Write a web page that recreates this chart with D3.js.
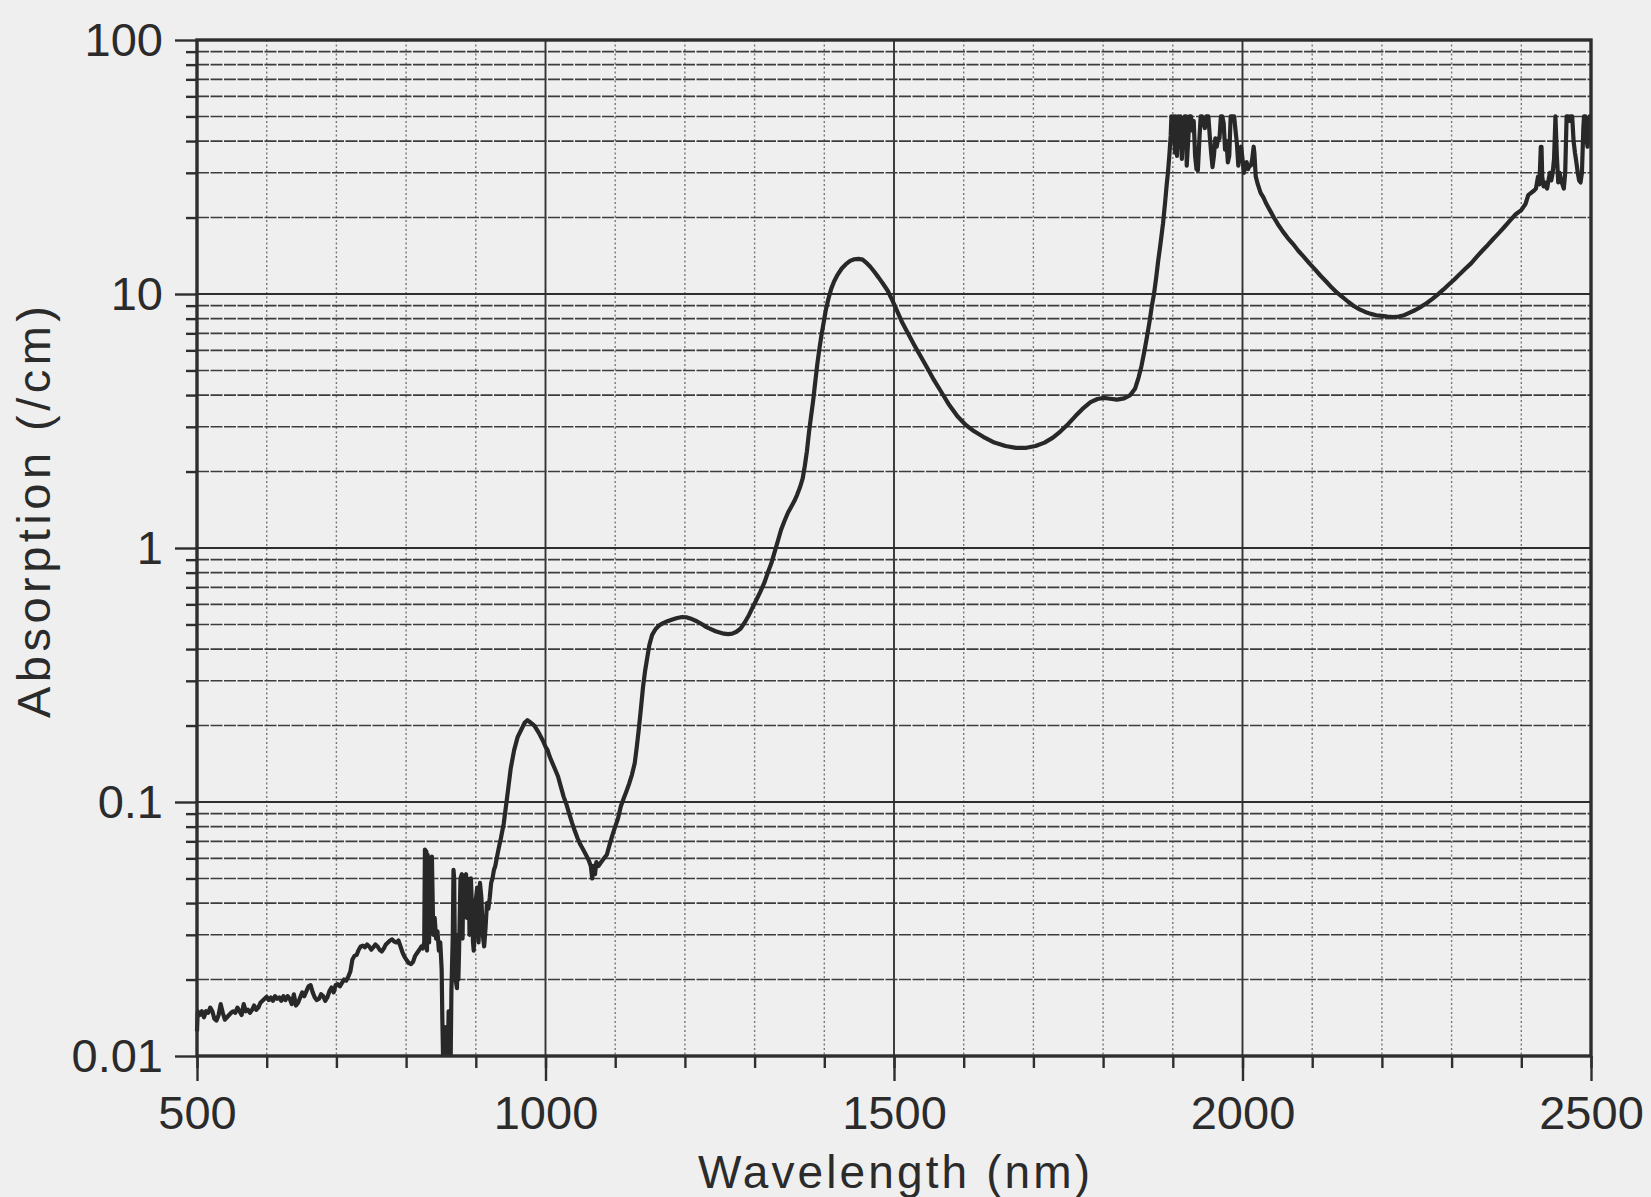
<!DOCTYPE html>
<html>
<head>
<meta charset="utf-8">
<script src="https://cdn.jsdelivr.net/npm/d3@7"></script>
<style>
  body { margin: 0; background: #efefef; }
  svg { display: block; background: #efefef; }
  text { font-family: "Liberation Sans", Arial, Helvetica, sans-serif; fill: #2b2b2b; }
</style>
</head>
<body>
<svg id="chart" width="1651" height="1197"></svg>
<script>
// spectrum: wavelength (nm) and absorption (/cm)
const wavelength = [
  500, 501, 504, 507, 510, 513, 516, 519, 522, 525, 528, 531, 534, 537, 540, 543, 546, 549, 552, 555,
  558, 561, 564, 567, 570, 573, 576, 579, 582, 585, 588, 591, 594, 597, 600, 603, 606, 609, 612, 615,
  618, 621, 624, 627, 630, 633, 636, 639, 642, 645, 648, 651, 654, 657, 660, 663, 666, 669, 672, 675,
  678, 681, 684, 687, 690, 693, 696, 699, 702, 705, 708, 711, 714, 717, 720, 723, 726, 729, 732, 735,
  738, 741, 744, 747, 750, 753, 756, 759, 762, 765, 768, 771, 774, 777, 780, 783, 786, 789, 792, 795,
  798, 801, 804, 807, 810, 813, 816, 819, 822, 824, 826, 827, 828, 829, 830, 831, 833, 834, 836, 837,
  839, 841, 843, 845, 847, 849, 851, 852, 853, 855, 856, 857, 860, 861, 862, 864, 865, 867, 868, 869,
  870, 871, 873, 874, 875, 876, 878, 880, 881, 882, 884, 886, 887, 888, 890, 891, 893, 894, 896, 897,
  898, 900, 902, 904, 906, 908, 910, 912, 914, 916, 918, 920, 922, 924, 926, 928, 930, 933, 936, 940,
  943, 946, 950, 955, 960, 965, 970, 974, 978, 984, 990, 996, 1000, 1003, 1006, 1010, 1014, 1018, 1022, 1026,
  1030, 1034, 1038, 1042, 1046, 1050, 1054, 1058, 1062, 1065, 1067, 1069, 1071, 1073, 1076, 1080, 1084, 1088, 1092, 1096,
  1100, 1104, 1108, 1112, 1116, 1120, 1124, 1128, 1131, 1134, 1137, 1140, 1143, 1146, 1149, 1153, 1158, 1163, 1168, 1175,
  1182, 1189, 1196, 1203, 1210, 1217, 1224, 1231, 1238, 1244, 1250, 1256, 1262, 1268, 1274, 1280, 1286, 1292, 1298, 1302,
  1308, 1314, 1319, 1324, 1329, 1334, 1338, 1343, 1348, 1353, 1357, 1361, 1365, 1369, 1372, 1375, 1378, 1381, 1384, 1387,
  1390, 1393, 1396, 1399, 1402, 1406, 1410, 1414, 1419, 1425, 1431, 1437, 1443, 1449, 1455, 1460, 1466, 1472, 1478, 1484,
  1491, 1498, 1505, 1512, 1520, 1529, 1538, 1548, 1557, 1567, 1578, 1591, 1603, 1615, 1628, 1644, 1660, 1675, 1690, 1703,
  1716, 1728, 1739, 1750, 1760, 1770, 1782, 1792, 1801, 1810, 1820, 1830, 1839, 1846, 1851, 1855, 1859, 1863, 1867, 1870,
  1873, 1876, 1879, 1882, 1886, 1889, 1891, 1893, 1895, 1897, 1898, 1900, 1901, 1903, 1904, 1906, 1908, 1910, 1911, 1913,
  1915, 1917, 1919, 1920, 1922, 1924, 1926, 1928, 1930, 1932, 1934, 1936, 1938, 1940, 1942, 1944, 1946, 1948, 1951, 1953,
  1955, 1957, 1959, 1961, 1963, 1965, 1967, 1969, 1971, 1973, 1975, 1977, 1979, 1981, 1983, 1986, 1988, 1990, 1992, 1994,
  1996, 1998, 2000, 2002, 2004, 2006, 2008, 2010, 2012, 2014, 2016, 2017, 2019, 2022, 2026, 2030, 2034, 2040, 2046, 2052,
  2058, 2065, 2072, 2080, 2088, 2096, 2104, 2112, 2120, 2128, 2136, 2144, 2152, 2160, 2168, 2176, 2184, 2192, 2200, 2208,
  2216, 2224, 2232, 2240, 2248, 2256, 2264, 2272, 2280, 2288, 2296, 2304, 2312, 2320, 2328, 2336, 2344, 2352, 2360, 2368,
  2376, 2384, 2392, 2400, 2406, 2410, 2414, 2418, 2421, 2424, 2426, 2428, 2429, 2430, 2432, 2434, 2437, 2439, 2441, 2443,
  2445, 2447, 2449, 2451, 2453, 2455, 2457, 2459, 2461, 2463, 2465, 2467, 2469, 2471, 2473, 2475, 2477, 2479, 2481, 2483,
  2485, 2487, 2489, 2490, 2492, 2494, 2495, 2497, 2498, 2500
];
const absorption = [
  0.0125, 0.0150, 0.0145, 0.0150, 0.0142, 0.0150, 0.0148, 0.0155, 0.0150, 0.0140, 0.0138, 0.0145, 0.0160, 0.0148, 0.0139, 0.0142, 0.0145, 0.0148, 0.0150, 0.0148,
  0.0155, 0.0150, 0.0145, 0.0160, 0.0150, 0.0152, 0.0148, 0.0152, 0.0158, 0.0152, 0.0155, 0.0162, 0.0165, 0.0168, 0.0171, 0.0166, 0.0170, 0.0165, 0.0172, 0.0168,
  0.0170, 0.0165, 0.0172, 0.0166, 0.0172, 0.0168, 0.0160, 0.0175, 0.0158, 0.0162, 0.0170, 0.0178, 0.0172, 0.0180, 0.0188, 0.0190, 0.0178, 0.0170, 0.0166, 0.0168,
  0.0175, 0.0172, 0.0165, 0.0170, 0.0180, 0.0186, 0.0178, 0.0190, 0.0192, 0.0188, 0.0194, 0.0200, 0.0198, 0.0205, 0.0215, 0.0240, 0.0248, 0.0250, 0.0262, 0.0270,
  0.0272, 0.0268, 0.0275, 0.0270, 0.0262, 0.0268, 0.0275, 0.0270, 0.0262, 0.0258, 0.0265, 0.0275, 0.0280, 0.0285, 0.0288, 0.0282, 0.0280, 0.0285, 0.0270, 0.0255,
  0.0245, 0.0238, 0.0232, 0.0230, 0.0235, 0.0248, 0.0255, 0.0262, 0.0270, 0.0265, 0.0280, 0.0650, 0.0300, 0.0640, 0.0260, 0.0620, 0.0280, 0.0600, 0.0420, 0.0610,
  0.0300, 0.0350, 0.0290, 0.0310, 0.0260, 0.0280, 0.0220, 0.0140, 0.0100, 0.0100, 0.0130, 0.0100, 0.0100, 0.0150, 0.0100, 0.0100, 0.0180, 0.0300, 0.0540, 0.0500,
  0.0250, 0.0200, 0.0185, 0.0300, 0.0200, 0.0260, 0.0500, 0.0520, 0.0290, 0.0500, 0.0500, 0.0520, 0.0350, 0.0500, 0.0480, 0.0300, 0.0500, 0.0420, 0.0280, 0.0260,
  0.0300, 0.0410, 0.0460, 0.0280, 0.0480, 0.0420, 0.0300, 0.0270, 0.0320, 0.0400, 0.0380, 0.0420, 0.0480, 0.0500, 0.0540, 0.0560, 0.0600, 0.0660, 0.0720, 0.0820,
  0.0950, 0.1100, 0.1350, 0.1600, 0.1800, 0.1920, 0.2050, 0.2100, 0.2060, 0.2000, 0.1880, 0.1750, 0.1650, 0.1600, 0.1510, 0.1420, 0.1340, 0.1260, 0.1150, 0.1050,
  0.0980, 0.0900, 0.0830, 0.0770, 0.0720, 0.0680, 0.0650, 0.0620, 0.0590, 0.0560, 0.0500, 0.0560, 0.0520, 0.0580, 0.0560, 0.0580, 0.0600, 0.0620, 0.0680, 0.0740,
  0.0800, 0.0860, 0.0960, 0.1030, 0.1100, 0.1180, 0.1280, 0.1420, 0.1650, 0.1950, 0.2350, 0.2850, 0.3300, 0.3700, 0.4150, 0.4550, 0.4800, 0.4950, 0.5050, 0.5150,
  0.5230, 0.5300, 0.5350, 0.5330, 0.5250, 0.5150, 0.5020, 0.4880, 0.4780, 0.4700, 0.4650, 0.4600, 0.4580, 0.4600, 0.4680, 0.4820, 0.5100, 0.5450, 0.5900, 0.6200,
  0.6700, 0.7300, 0.8000, 0.8700, 0.9700, 1.0800, 1.1800, 1.2800, 1.3800, 1.4600, 1.5300, 1.6200, 1.7300, 1.8800, 2.1000, 2.4000, 2.8500, 3.3000, 3.8000, 4.5000,
  5.3000, 6.1000, 6.9000, 7.7000, 8.6000, 9.6000, 10.500, 11.200, 11.900, 12.600, 13.100, 13.500, 13.700, 13.750, 13.650, 13.300, 12.800, 12.200, 11.600, 11.000,
  10.300, 9.400, 8.500, 7.700, 7.000, 6.300, 5.700, 5.100, 4.600, 4.150, 3.700, 3.300, 3.050, 2.880, 2.740, 2.600, 2.520, 2.480, 2.480, 2.520,
  2.600, 2.720, 2.880, 3.080, 3.300, 3.520, 3.750, 3.860, 3.900, 3.870, 3.840, 3.880, 4.000, 4.250, 4.700, 5.200, 5.900, 6.800, 7.900, 9.000,
  10.00, 11.50, 13.50, 15.50, 19.00, 23.00, 26.50, 30.00, 35.00, 42.00, 50.00, 40.00, 50.00, 36.00, 50.00, 35.00, 50.00, 38.00, 50.00, 34.00,
  45.00, 50.00, 50.00, 32.00, 40.00, 50.00, 50.00, 44.00, 48.00, 35.00, 31.00, 30.70, 40.00, 50.00, 50.00, 47.00, 45.00, 50.00, 50.00, 42.00,
  36.00, 31.60, 35.00, 41.00, 38.00, 41.00, 41.00, 50.00, 50.00, 47.00, 37.00, 40.00, 33.00, 35.00, 50.00, 50.00, 50.00, 44.00, 39.00, 32.00,
  36.00, 38.00, 34.00, 30.00, 32.00, 33.00, 31.00, 32.00, 32.00, 34.00, 38.00, 36.00, 29.00, 27.00, 25.00, 24.00, 22.70, 21.20, 19.80, 18.60,
  17.60, 16.60, 15.80, 14.80, 14.00, 13.20, 12.50, 11.80, 11.20, 10.60, 10.10, 9.700, 9.300, 8.950, 8.700, 8.500, 8.350, 8.250, 8.200, 8.150,
  8.120, 8.150, 8.250, 8.450, 8.650, 8.900, 9.200, 9.550, 9.950, 10.40, 10.90, 11.40, 12.00, 12.60, 13.20, 14.00, 14.80, 15.60, 16.50, 17.40,
  18.40, 19.50, 20.60, 21.40, 22.60, 24.50, 25.00, 25.50, 26.00, 29.00, 27.00, 38.00, 38.00, 29.00, 26.50, 27.50, 26.00, 28.00, 30.00, 28.00,
  30.00, 34.00, 50.00, 35.00, 27.50, 30.00, 28.00, 27.00, 26.00, 30.00, 50.00, 50.00, 48.00, 50.00, 50.00, 40.00, 36.00, 33.00, 30.00, 28.00,
  27.50, 30.00, 45.00, 50.00, 50.00, 40.00, 38.00, 42.00, 50.00, 50.00
];

const xTickValues = [500, 1000, 1500, 2000, 2500];
const xMinorValues = d3.range(500, 2501, 100);
const yTickValues = [0.01, 0.1, 1, 10, 100];
const yTickLabels = ['0.01', '0.1', '1', '10', '100'];
const xTitle = 'Wavelength (nm)';
const yTitle = 'Absorption (/cm)';

const svg = d3.select('#chart');
const width = 1651, height = 1197;
const margin = { top: 40, right: 60, bottom: 141, left: 197 };
const plotW = width - margin.left - margin.right;
const plotH = height - margin.top - margin.bottom;

const x = d3.scaleLinear().domain([500, 2500]).range([0, plotW]);
const y = d3.scaleLog().domain([0.01, 100]).range([plotH, 0]);

const g = svg.append('g').attr('transform', `translate(${margin.left},${margin.top})`);

// every log sub-division 2..9 in each decade
const yMinorValues = [];
[0.01, 0.1, 1, 10].forEach(d => {
    for (let k = 2; k <= 9; k++) yMinorValues.push(+(k * d).toPrecision(3));
});

// vertical grid
g.append('g').selectAll('line')
    .data(xMinorValues.filter(v => v !== 500 && v !== 2500))
    .enter().append('line')
    .attr('x1', d => x(d)).attr('x2', d => x(d))
    .attr('y1', 0).attr('y2', plotH)
    .attr('stroke', d => d % 500 === 0 ? '#333' : '#777')
    .attr('stroke-width', d => d % 500 === 0 ? 1.9 : 1.4)
    .attr('stroke-dasharray', d => d % 500 === 0 ? null : '2,2.5');

// horizontal grid
g.append('g').selectAll('line')
    .data(yMinorValues)
    .enter().append('line')
    .attr('x1', 0).attr('x2', plotW)
    .attr('y1', d => y(d)).attr('y2', d => y(d))
    .attr('stroke', '#3c3c3c')
    .attr('stroke-width', 1.6)
    .attr('stroke-dasharray', '12,1.5');

g.append('g').selectAll('line')
    .data(yTickValues.slice(1, -1))
    .enter().append('line')
    .attr('x1', 0).attr('x2', plotW)
    .attr('y1', d => y(d)).attr('y2', d => y(d))
    .attr('stroke', '#2e2e2e')
    .attr('stroke-width', 2.2);

// curve
const pts = wavelength.map((w, i) => ({ w: w, a: absorption[i] }));
g.append('clipPath').attr('id', 'clip')
    .append('rect').attr('x', -3).attr('width', plotW + 3).attr('height', plotH);

g.append('path')
    .datum(pts)
    .attr('clip-path', 'url(#clip)')
    .attr('fill', 'none')
    .attr('stroke', '#282828')
    .attr('stroke-width', 4.2)
    .attr('stroke-linejoin', 'round')
    .attr('d', d3.line().x(d => x(d.w)).y(d => y(d.a)));

// axes
const xMinorAxis = d3.axisBottom(x).tickValues(xMinorValues).tickSize(12).tickFormat('');
const xAxis = d3.axisBottom(x).tickValues(xTickValues).tickSize(25).tickPadding(15)
    .tickFormat(d3.format('d'));
const yMinorAxis = d3.axisLeft(y).tickValues(yMinorValues).tickSize(11).tickFormat('');
const yAxis = d3.axisLeft(y).tickValues(yTickValues).tickSize(22).tickPadding(12)
    .tickFormat((d, i) => yTickLabels[i]);

[[xMinorAxis, 'bottom'], [xAxis, 'bottom'], [yMinorAxis, 'left'], [yAxis, 'left']].forEach(([ax, side]) => {
    const a = g.append('g')
        .attr('transform', side === 'bottom' ? `translate(0,${plotH})` : null)
        .call(ax);
    a.select('.domain').remove();
    a.selectAll('line').attr('stroke', '#2e2e2e').attr('stroke-width', 2.4);
    a.selectAll('text')
        .attr('fill', '#2b2b2b')
        .style('font-size', '47px')
        .style('font-family', '"Liberation Sans", Arial, sans-serif');
});

// frame
g.append('rect')
    .attr('width', plotW).attr('height', plotH)
    .attr('fill', 'none')
    .attr('stroke', '#2e2e2e')
    .attr('stroke-width', 3.4);

// titles
svg.append('text')
    .attr('x', margin.left + plotW / 2)
    .attr('y', 1188)
    .attr('text-anchor', 'middle')
    .attr('textLength', 392)
    .attr('lengthAdjust', 'spacing')
    .style('font-size', '46px')
    .text(xTitle);

svg.append('text')
    .attr('transform', 'translate(50,512) rotate(-90)')
    .attr('text-anchor', 'middle')
    .attr('textLength', 412)
    .attr('lengthAdjust', 'spacing')
    .style('font-size', '47px')
    .text(yTitle);
</script>
</body>
</html>
